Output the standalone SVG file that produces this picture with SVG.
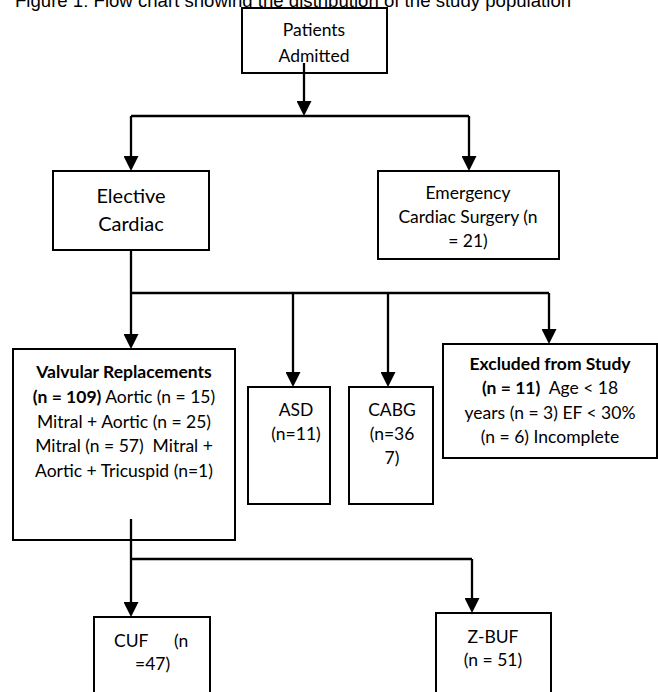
<svg xmlns="http://www.w3.org/2000/svg" width="658" height="692" viewBox="0 0 658 692">
<style>
.box{fill:#fff;stroke:#000;stroke-width:2}
.t{font-family:Lato,"Liberation Sans",sans-serif;font-size:17.5px;fill:#000;text-anchor:middle}
.big{font-size:20px}
.b{font-weight:bold}
.title{font-family:"Liberation Sans",Arial,sans-serif;font-size:18.6px;fill:#000}
.c{stroke:#000;stroke-width:2.3;fill:none}
</style>
<defs>
<marker id="ah" viewBox="0 0 15 15" refX="0" refY="7.5" markerWidth="15" markerHeight="15" markerUnits="userSpaceOnUse" orient="auto">
<path d="M0,0 L15,7.5 L0,15 z" fill="#000"/>
</marker>
</defs>
<text class="title" x="15" y="7">Figure 1: Flow chart showing the distribution of the study population</text>
<g id="connectors">
<line class="c" x1="304" y1="63" x2="304" y2="101" marker-end="url(#ah)"/>
<line class="c" x1="131" y1="116" x2="469" y2="116"/>
<line class="c" x1="131" y1="116" x2="131" y2="156" marker-end="url(#ah)"/>
<line class="c" x1="469" y1="116" x2="469" y2="156" marker-end="url(#ah)"/>
<line class="c" x1="131" y1="250" x2="131" y2="293"/>
<line class="c" x1="131" y1="293" x2="549" y2="293"/>
<line class="c" x1="131" y1="293" x2="131" y2="334" marker-end="url(#ah)"/>
<line class="c" x1="293" y1="293" x2="293" y2="372" marker-end="url(#ah)"/>
<line class="c" x1="388" y1="293" x2="388" y2="372" marker-end="url(#ah)"/>
<line class="c" x1="549" y1="293" x2="549" y2="329" marker-end="url(#ah)"/>
<line class="c" x1="131" y1="559" x2="472" y2="559"/>
<line class="c" x1="472" y1="559" x2="472" y2="598" marker-end="url(#ah)"/>
</g>
<g id="patients">
<rect class="box" x="242" y="8" width="145" height="65"/>
<text class="t" x="314" y="36">Patients</text>
<text class="t" x="314" y="62">Admitted</text>
</g>
<line class="c" x1="304" y1="63" x2="304" y2="73"/>
<g id="elective">
<rect class="box" x="53" y="171" width="156" height="79"/>
<text class="t big" x="131" y="203">Elective</text>
<text class="t big" x="131" y="231">Cardiac</text>
</g>
<g id="emergency">
<rect class="box" x="378" y="171" width="181" height="88"/>
<text class="t" x="468" y="199">Emergency</text>
<text class="t" x="468" y="223">Cardiac Surgery (n</text>
<text class="t" x="468" y="247">= 21)</text>
</g>
<g id="valvular">
<rect class="box" x="13" y="349" width="222" height="191"/>
<text class="t b" x="124" y="378">Valvular Replacements</text>
<text class="t" x="124" y="403"><tspan class="b">(n = 109)</tspan> Aortic (n = 15)</text>
<text class="t" x="124" y="428">Mitral + Aortic (n = 25)</text>
<text class="t" x="124" y="452" xml:space="preserve">Mitral (n = 57)  Mitral +</text>
<text class="t" x="124" y="477">Aortic + Tricuspid (n=1)</text>
</g>
<line class="c" x1="131" y1="519" x2="131" y2="602" marker-end="url(#ah)"/>
<g id="asd">
<rect class="box" x="248" y="387" width="82" height="117"/>
<text class="t" x="296" y="416">ASD</text>
<text class="t" x="296" y="440">(n=11)</text>
</g>
<g id="cabg">
<rect class="box" x="349" y="387" width="84" height="117"/>
<text class="t" x="392" y="416">CABG</text>
<text class="t" x="392" y="440">(n=36</text>
<text class="t" x="392" y="464">7)</text>
</g>
<g id="excluded">
<rect class="box" x="443" y="344" width="214" height="114"/>
<text class="t b" x="550" y="370">Excluded from Study</text>
<text class="t" x="550" y="394" xml:space="preserve"><tspan class="b">(n = 11)</tspan>  Age &lt; 18</text>
<text class="t" x="550" y="419">years (n = 3) EF &lt; 30%</text>
<text class="t" x="550" y="443">(n = 6) Incomplete</text>
</g>
<g id="cuf">
<rect class="box" x="94" y="617" width="116" height="90"/>
<text class="t" y="647" style="text-anchor:start"><tspan x="114">CUF</tspan><tspan x="174">(n</tspan></text>
<text class="t" x="135" y="670" style="text-anchor:start">=47)</text>
</g>
<g id="zbuf">
<rect class="box" x="436" y="613" width="115" height="94"/>
<text class="t" x="493" y="643">Z-BUF</text>
<text class="t" x="493" y="666">(n = 51)</text>
</g>
</svg>
